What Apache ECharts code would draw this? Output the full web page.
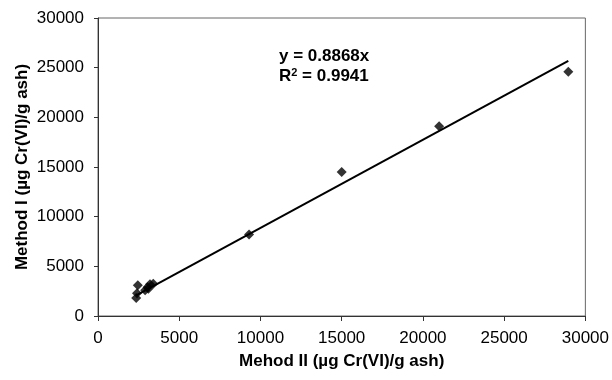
<!DOCTYPE html>
<html>
<head>
<meta charset="utf-8">
<script src="https://cdn.jsdelivr.net/npm/echarts@6/dist/echarts.min.js"></script>
<style>
html,body{margin:0;padding:0;background:#fff;}
#c{width:612px;height:380px;}
</style>
</head>
<body>
<div id="c"></div>
<script>
// Data
const methodII = [2350, 2400, 2450, 2900, 3100, 3050, 3200, 3400, 9300, 15000, 21000, 28950];
const methodI  = [1800, 2300, 3100, 2600, 2750, 2900, 3200, 3250, 8200, 14500, 19100, 24600];
const slope = 0.8868;
const r2 = 0.9941;
const xTicks = [0, 5000, 10000, 15000, 20000, 25000, 30000];
const yTicks = [0, 5000, 10000, 15000, 20000, 25000, 30000];

const points = methodII.map((x, i) => [x, methodI[i]]);
const xMin = Math.min(...methodII), xMax = Math.max(...methodII);
const trend = [[xMin, slope * xMin], [xMax, slope * xMax]];

const font = 'Liberation Sans, Arial, sans-serif';
const chart = echarts.init(document.getElementById('c'), null, {renderer: 'canvas'});
chart.setOption({
  animation: false,
  backgroundColor: '#fff',
  grid: {left: 98, right: 25, top: 18, bottom: 64, show: true, borderColor: '#666', borderWidth: 1, backgroundColor: 'transparent'},
  xAxis: {
    type: 'value', min: xTicks[0], max: xTicks[xTicks.length - 1], interval: 5000,
    splitLine: {show: false},
    axisLine: {show: true, lineStyle: {color: '#333', width: 1}},
    axisTick: {show: true, inside: false, length: 5, lineStyle: {color: '#333'}},
    axisLabel: {color: '#000', fontFamily: font, fontSize: 17, margin: 14, formatter: v => String(v)},
    name: 'Mehod II (µg Cr(VI)/g ash)', nameLocation: 'middle', nameGap: 37, nameMoveOverlap: false,
    nameTextStyle: {color: '#000', fontFamily: font, fontSize: 17, fontWeight: 'bold'}
  },
  yAxis: {
    type: 'value', min: yTicks[0], max: yTicks[yTicks.length - 1], interval: 5000,
    splitLine: {show: false},
    axisLine: {show: true, lineStyle: {color: '#333', width: 1}},
    axisTick: {show: true, inside: false, length: 4, lineStyle: {color: '#333'}},
    axisLabel: {color: '#000', fontFamily: font, fontSize: 17, margin: 14, formatter: v => String(v)},
    name: 'Method I (µg Cr(VI)/g ash)', nameLocation: 'middle', nameGap: 67, nameRotate: 90, nameMoveOverlap: false,
    nameTextStyle: {color: '#000', fontFamily: font, fontSize: 17, fontWeight: 'bold'}
  },
  series: [
    {
      type: 'line', data: trend, showSymbol: false, symbol: 'none',
      lineStyle: {color: '#000', width: 2}, z: 2
    },
    {
      type: 'scatter', data: points, symbol: 'diamond', symbolSize: 10,
      itemStyle: {color: '#000'}, z: 3
    }
  ],
  graphic: [
    {type: 'text', left: 279, top: 48, style: {text: 'y = ' + slope.toFixed(4) + 'x', fill: '#000', font: 'bold 17px ' + font}},
    {type: 'text', left: 279, top: 67, style: {text: '{a|R}{s|2}{a| = ' + r2.toFixed(4) + '}', fill: '#000',
      rich: {a: {font: 'bold 17px ' + font, fill: '#000'}, s: {font: 'bold 11px ' + font, fill: '#000', verticalAlign: 'top', padding: [0,0,7,0]}}}}
  ]
});
</script>
</body>
</html>
